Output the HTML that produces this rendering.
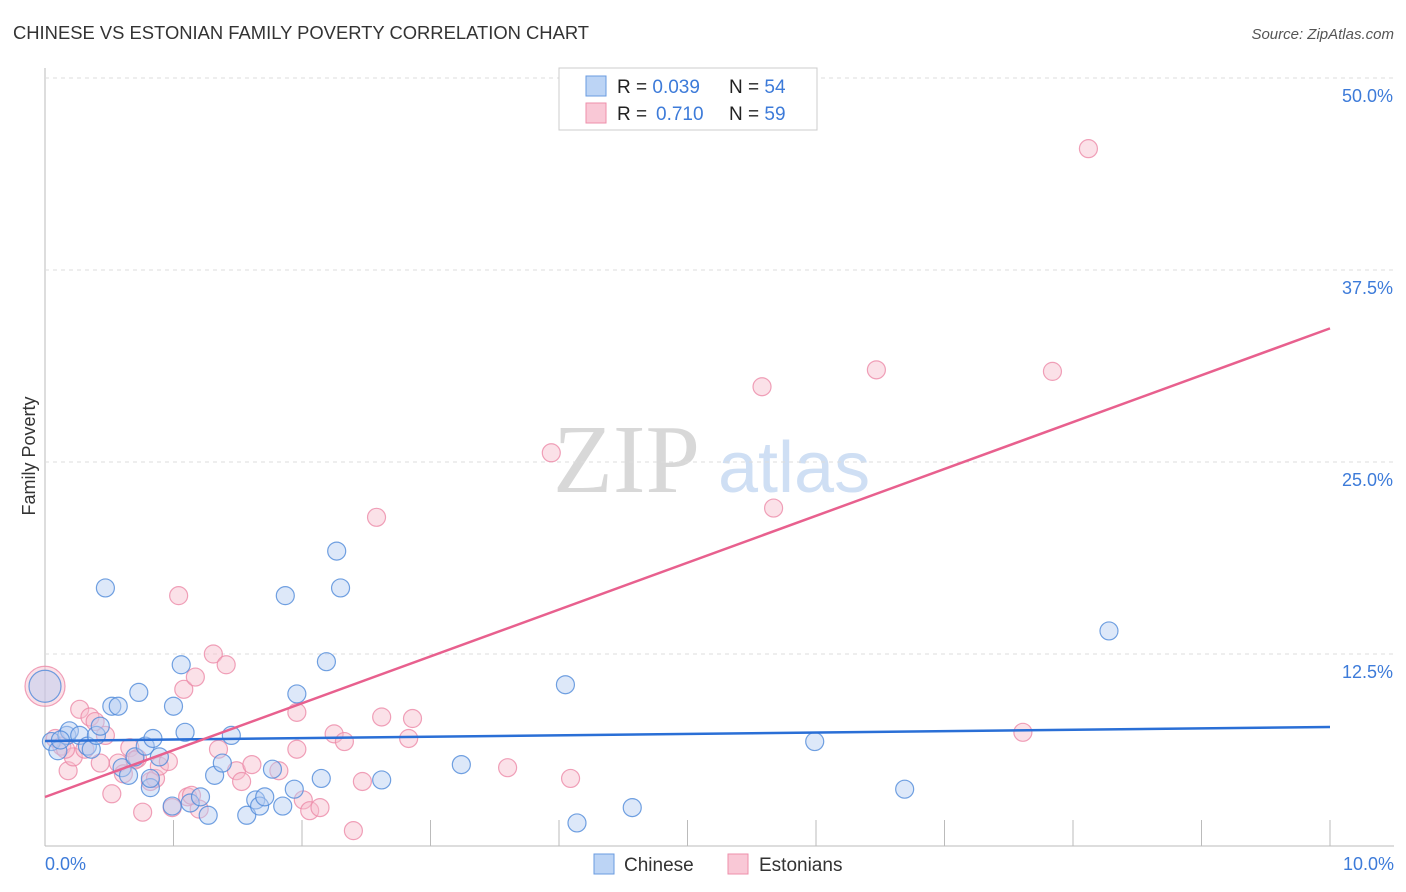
<!DOCTYPE html>
<html><head><meta charset="utf-8"><style>
body{margin:0;background:#fff;font-family:"Liberation Sans",sans-serif;}
#wrap{position:relative;width:1406px;height:892px;overflow:hidden;}
</style></head><body>
<div id="wrap">
<svg id="svg" width="1406" height="892" xmlns="http://www.w3.org/2000/svg">
<text x="13" y="39" font-size="18.4" fill="#333">CHINESE VS ESTONIAN FAMILY POVERTY CORRELATION CHART</text>
<text x="1394" y="39" font-size="15" fill="#555" font-style="italic" text-anchor="end">Source: ZipAtlas.com</text>
<text x="35" y="456" font-size="18" fill="#333" text-anchor="middle" transform="rotate(-90 35 456)">Family Poverty</text>
<text x="553" y="492" font-size="98" fill="#d8d8d8" font-family="Liberation Serif,serif">ZIP</text>
<text x="718" y="492" font-size="72" fill="#cfdff4">atlas</text>
<g id="grid"></g>
<g id="pts"></g>
<g id="lines"></g>
<g>
<rect x="559" y="68" width="258" height="62" fill="#fff" stroke="#ccc"/>
<rect x="586" y="76" width="20" height="20" fill="#bcd4f5" stroke="#6a9be0"/>
<rect x="586" y="103" width="20" height="20" fill="#f9c8d6" stroke="#ee8fab"/>
<text x="617" y="93" font-size="19" fill="#222">R = <tspan fill="#3d7bd9">0.039</tspan><tspan x="729">N = </tspan><tspan fill="#3d7bd9">54</tspan></text>
<text x="617" y="120" font-size="19" fill="#222">R = <tspan x="656" fill="#3d7bd9">0.710</tspan><tspan x="729">N = </tspan><tspan fill="#3d7bd9">59</tspan></text>
</g>
<g>
<rect x="594" y="854" width="20" height="20" fill="#bcd4f5" stroke="#6a9be0"/>
<text x="624" y="871" font-size="19" fill="#333">Chinese</text>
<rect x="728" y="854" width="20" height="20" fill="#f9c8d6" stroke="#ee8fab"/>
<text x="759" y="871" font-size="19" fill="#333">Estonians</text>
</g>
</svg>
</div>
<script>
const yTicks=[12.5,25,37.5,50];
const yTickLabels=["12.5%","25.0%","37.5%","50.0%"];
const xTicks=[0,1,2,3,4,5,6,7,8,9,10];
const chineseX=[0,0.05,0.1,0.17,0.19,0.27,0.33,0.36,0.4,0.43,0.47,0.52,0.57,0.6,0.65,0.7,0.73,0.78,0.82,0.84,0.89,1.0,0.99,1.06,1.09,1.13,1.21,1.27,1.32,1.38,1.45,1.57,1.64,1.67,1.71,1.77,1.85,1.87,1.94,1.96,2.15,2.19,2.27,2.3,2.62,3.24,4.05,4.14,4.57,5.99,6.69,8.28,0.12,0.82];
const chineseY=[10.4,6.8,6.2,7.2,7.5,7.2,6.5,6.3,7.2,7.8,16.8,9.1,9.1,5.1,4.6,5.8,10.0,6.5,3.8,7.0,5.8,9.1,2.6,11.8,7.4,2.8,3.2,2.0,4.6,5.4,7.2,2.0,3.0,2.6,3.2,5.0,2.6,16.3,3.7,9.9,4.4,12.0,19.2,16.8,4.3,5.3,10.5,1.5,2.5,6.8,3.7,14.0,6.9,4.4];
const estX=[0,0.08,0.13,0.18,0.22,0.27,0.35,0.39,0.43,0.47,0.52,0.57,0.61,0.66,0.72,0.76,0.82,0.86,0.89,0.96,0.99,1.04,1.08,1.11,1.17,1.2,1.31,1.35,1.41,1.49,1.53,1.61,1.82,1.96,1.96,2.01,2.06,2.14,2.25,2.33,2.4,2.47,2.58,2.62,2.83,2.86,3.6,3.94,4.09,5.58,5.67,6.47,7.61,7.84,8.12,0.16,0.31,0.7,1.14];
const estY=[10.4,7.0,6.5,4.9,5.8,8.9,8.4,8.1,5.4,7.2,3.4,5.4,4.7,6.4,5.7,2.2,4.2,4.4,5.2,5.5,2.5,16.3,10.2,3.2,11.0,2.4,12.5,6.3,11.8,4.9,4.2,5.3,4.9,6.3,8.7,3.0,2.3,2.5,7.3,6.8,1.0,4.2,21.4,8.4,7.0,8.3,5.1,25.6,4.4,29.9,22.0,31.0,7.4,30.9,45.4,6.3,6.3,5.6,3.3];
const blueLine=[6.84,7.75];
const pinkLine=[3.19,33.7];
const X=v=>45+v*128.5, Y=v=>846-v*15.36;
const NS="http://www.w3.org/2000/svg";
const svg=document.getElementById('svg'),grid=document.getElementById('grid'),pts=document.getElementById('pts'),lines=document.getElementById('lines');
function mk(t,a,p){const e=document.createElementNS(NS,t);for(const k in a)e.setAttribute(k,a[k]);p.appendChild(e);return e;}
let ax=mk('line',{x1:45,y1:68,x2:45,y2:846,stroke:'#bbb'},grid);


let bx=mk('line',{x1:45,y1:846,x2:1394,y2:846,stroke:'#bbb'},grid);


yTicks.forEach((t,i)=>{
 let g=mk('line',{x1:45,y1:Y(t),x2:1394,y2:Y(t),stroke:'#ddd','stroke-dasharray':'4,4'},grid);
 
 
 let l=mk('text',{x:1393,y:Y(t)+24,'font-size':18,fill:'#3d7bd9','text-anchor':'end'},grid);l.textContent=yTickLabels[i];
 
 
});
xTicks.forEach(t=>{
 if(t==0)return;
 let g=mk('line',{x1:X(t),y1:820,x2:X(t),y2:846,stroke:'#bbb'},grid);
 
 
});
let x0=mk('text',{x:45,y:870,'font-size':18,fill:'#3d7bd9'},grid);x0.textContent='0.0%';


let x1=mk('text',{x:1394,y:870,'font-size':18,fill:'#3d7bd9','text-anchor':'end'},grid);x1.textContent='10.0%';


function dots(xs,ys,fill,stroke,name,bigR){xs.forEach((x,i)=>{
 const big=i==0;
 let c=mk('circle',{cx:X(x),cy:Y(ys[i]),r:big?bigR:9,fill:fill,'fill-opacity':0.45,stroke:stroke,'stroke-opacity':0.8,'stroke-width':1.2},pts);
 
 
});}
dots(estX,estY,'#f7bccd','#ec8aa8','estonian-point',20);
dots(chineseX,chineseY,'#b3cdf2','#4f8ad9','chinese-point',16);
let bl=mk('line',{x1:X(0),y1:Y(blueLine[0]),x2:X(10),y2:Y(blueLine[1]),stroke:'#2a6fd6','stroke-width':2.5},lines);


let pl=mk('line',{x1:X(0),y1:Y(pinkLine[0]),x2:X(10),y2:Y(pinkLine[1]),stroke:'#e8608e','stroke-width':2.5},lines);


</script>
</body></html>
